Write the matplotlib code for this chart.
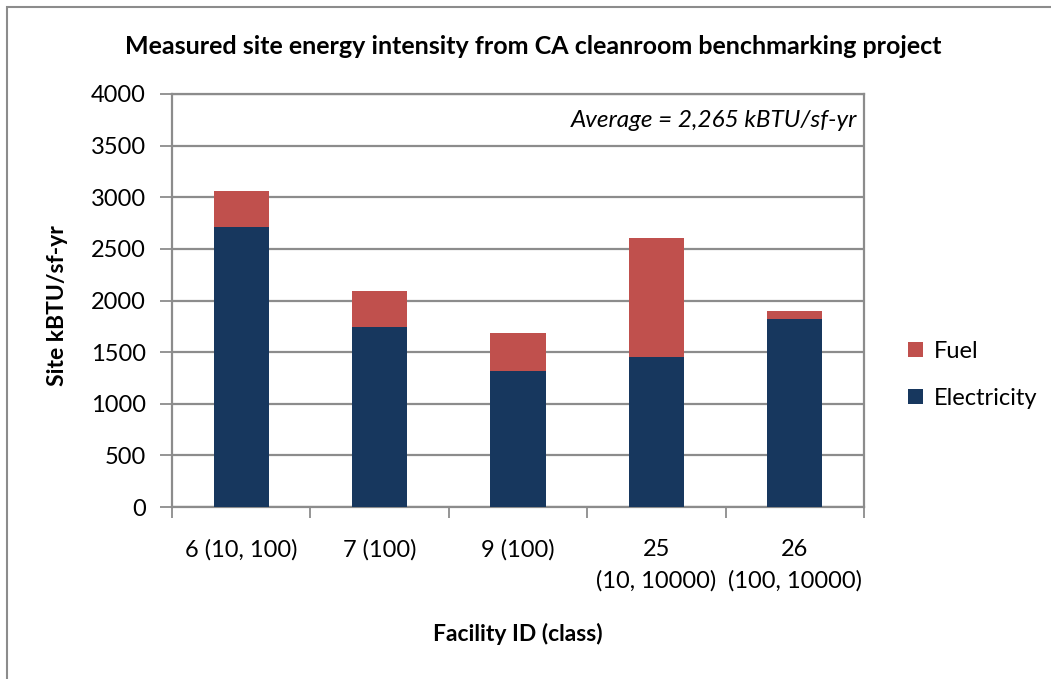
import matplotlib
matplotlib.use("Agg")
import matplotlib.pyplot as plt
from matplotlib.patches import Rectangle
import numpy as np

plt.rcParams['font.family'] = ['Lato', 'DejaVu Sans']

facilities = ["6 (10, 100)", "7 (100)", "9 (100)", "25\n(10, 10000)", "26\n(100, 10000)"]
electricity = [2715, 1745, 1315, 1450, 1820]
fuel = [350, 345, 370, 1160, 75]

navy = "#17375E"
red = "#C0504D"
grid_grey = "#8C8C8C"

fig = plt.figure(figsize=(10.51, 6.79), dpi=100)
ax = fig.add_axes([172/1051, 1-507/679, 692/1051, 413/679])

x = np.arange(len(facilities))
ax.bar(x, electricity, width=0.4, color=navy, label="Electricity", zorder=3)
ax.bar(x, fuel, width=0.4, bottom=electricity, color=red, label="Fuel", zorder=3)

ax.set_xlim(-0.5, 4.5)
ax.set_ylim(0, 4000)
ax.set_yticks(np.arange(0, 4001, 500))
ax.yaxis.grid(True, color=grid_grey, linewidth=1.6, zorder=0)
ax.set_axisbelow(True)

for side in ["left", "right", "top", "bottom"]:
    ax.spines[side].set_color(grid_grey)
    ax.spines[side].set_linewidth(1.6)

ax.tick_params(axis="y", length=9, width=1.3, color=grid_grey, pad=10, labelsize=17)
ax.set_xticks(x)
ax.set_xticklabels(facilities, fontsize=17, linespacing=1.55)
ax.set_xticks(np.arange(-0.5, 5, 1), minor=True)
ax.tick_params(axis="x", which="major", length=0, pad=23)
ax.tick_params(axis="x", which="minor", length=8, width=1.3, color=grid_grey)

fig.text(57/1051, 1-306/679, "Site kBTU/sf-yr", fontsize=16.5, fontweight="bold",
         rotation=90, ha="center", va="center")
fig.text(518/1051, 1-634/679, "Facility ID (class)", fontsize=16.5, fontweight="bold",
         ha="center", va="center")
fig.text(533/1051, 1-46/679, "Measured site energy intensity from CA cleanroom benchmarking project",
         fontsize=18, fontweight="bold", ha="center", va="center")

ax.text(0.99, 0.935, "Average = 2,265 kBTU/sf-yr", transform=ax.transAxes,
        fontsize=17.5, style="italic", ha="right", va="center")

handles, labels = ax.get_legend_handles_labels()
ax.legend(handles[::-1], labels[::-1], loc="center left", bbox_to_anchor=(1.05, 0.32),
          frameon=False, fontsize=17, handlelength=0.65, handleheight=0.65,
          handletextpad=0.45, labelspacing=1.1, borderaxespad=0)

fig.patches.append(Rectangle((7/1051, -0.05), 1.2, 1-7/679 + 0.05,
                             transform=fig.transFigure, fill=False,
                             edgecolor=grid_grey, linewidth=1.5))

fig.savefig("out.png", dpi=100)
